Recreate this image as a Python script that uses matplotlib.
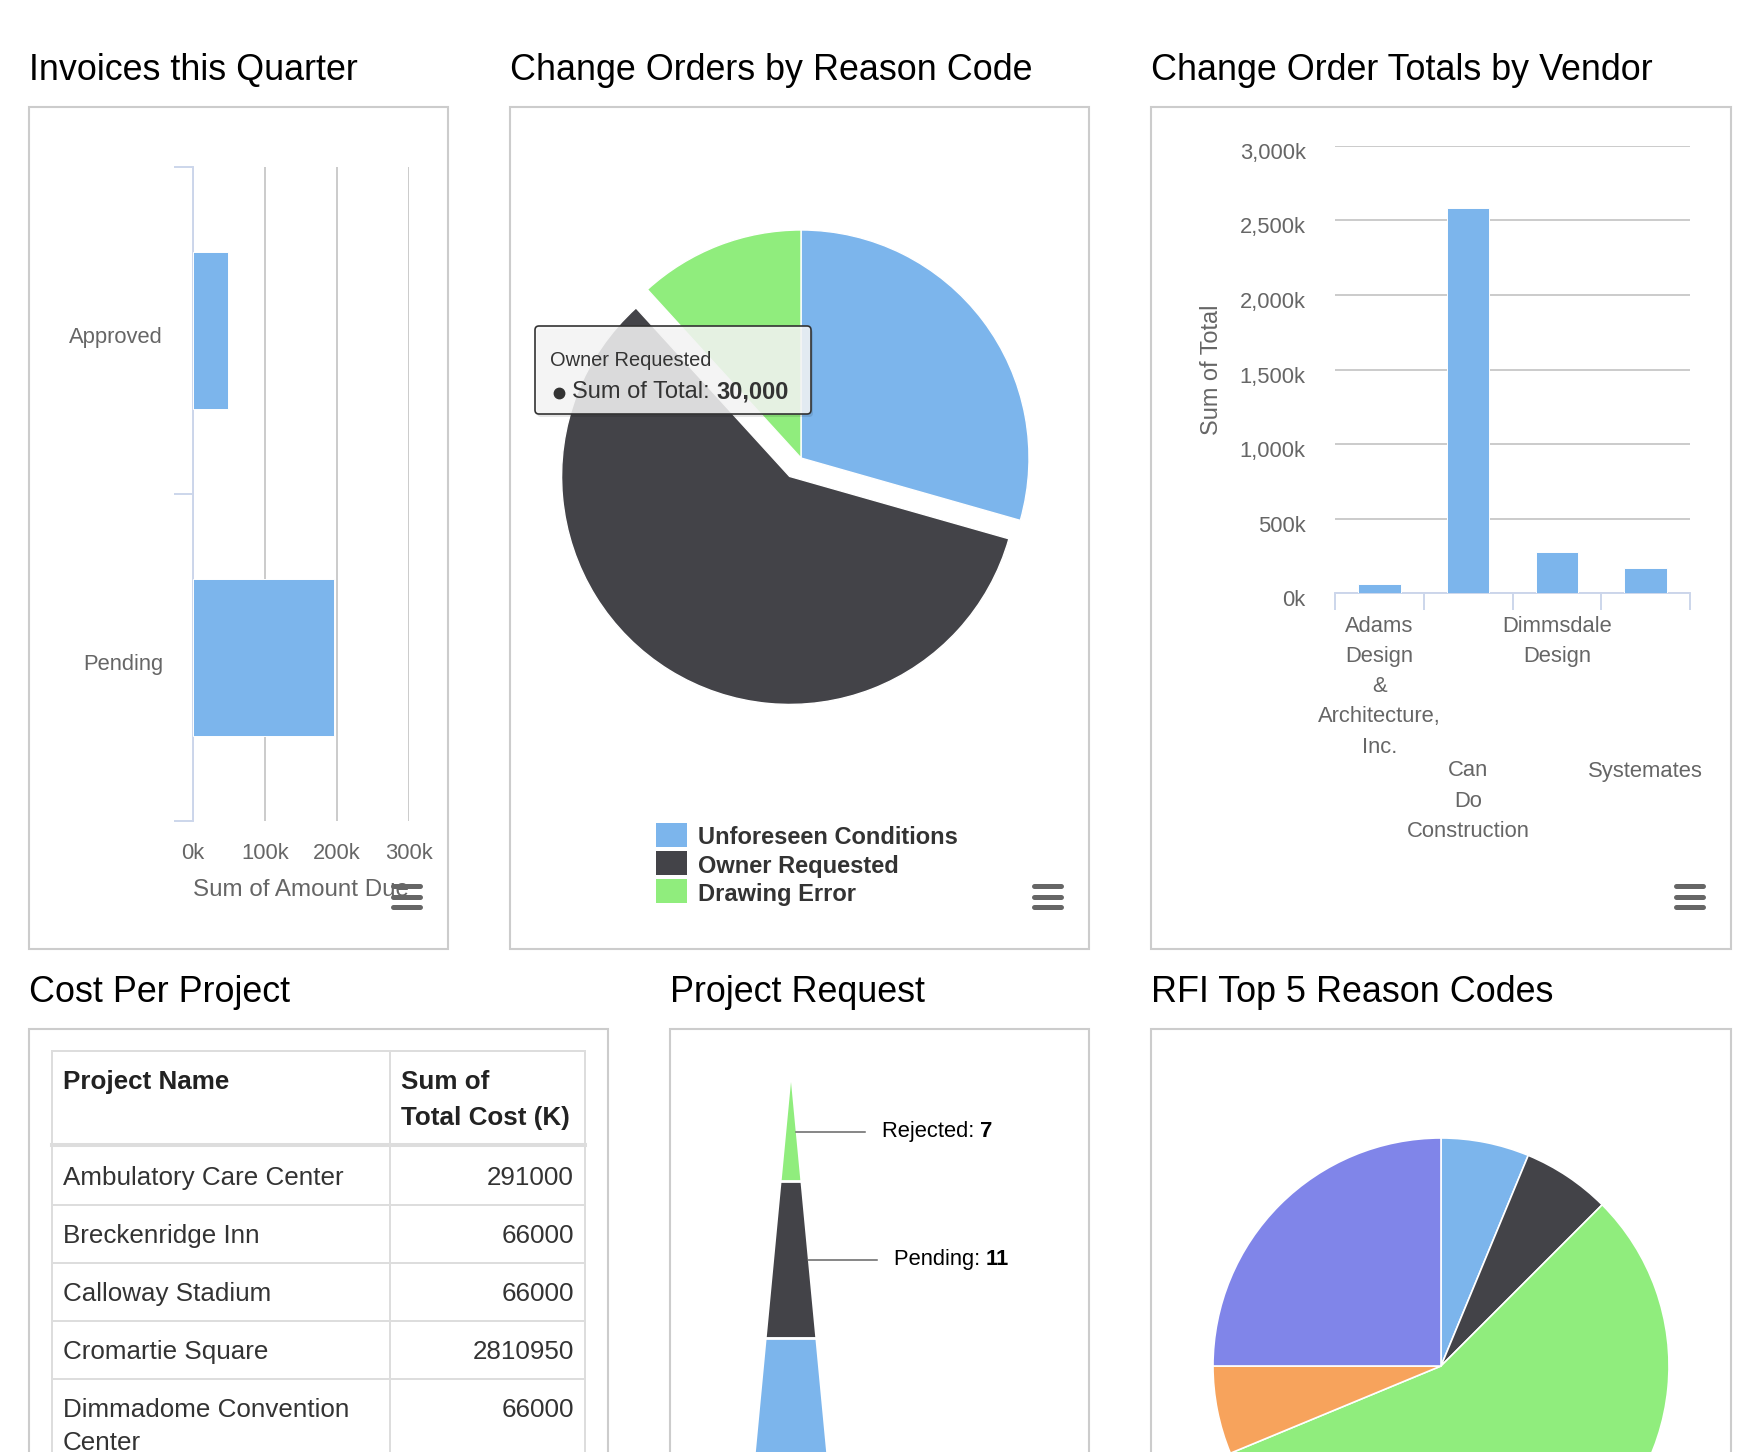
import numpy as np
import matplotlib
matplotlib.use("Agg")
import matplotlib.pyplot as plt
from matplotlib.patches import Rectangle, FancyBboxPatch, Polygon
from matplotlib.ticker import FuncFormatter
from matplotlib.transforms import offset_copy, ScaledTranslation

plt.rcParams['font.family'] = ['Liberation Sans', 'DejaVu Sans']

#======================== data ==========================#
invoice_status = ["Approved", "Pending"]
invoice_amounts = [48000, 196000]

reason_codes = ["Unforeseen Conditions", "Owner Requested", "Drawing Error"]
reason_totals = [15000, 30000, 6000]

vendors = ["Adams Design & Architecture, Inc.", "Can Do Construction",
           "Dimmsdale Design", "Systemates"]
vendor_totals = [60000, 2583000, 276000, 167000]

table_header = ["Project Name", "Sum of\nTotal Cost (K)"]
projects = ["Ambulatory Care Center", "Breckenridge Inn", "Calloway Stadium",
            "Cromartie Square", "Dimmadome Convention\nCenter"]
project_costs = [291000, 66000, 66000, 2810950, 66000]

request_status = ["Rejected", "Pending", "Approved"]
request_counts = [7, 11, 20]

rfi_counts = [1, 1, 9, 1, 4]

BLUE, DARK, GREEN, ORANGE, PURPLE = '#7cb5ec', '#434348', '#90ed7d', '#f7a35c', '#8085e9'
GRID, AXIS, LABEL = '#c2c2c2', '#ccd6eb', '#666666'

#======================== layout helpers ==========================#
W, H = 1761, 1452
fig = plt.figure(figsize=(W / 100, H / 100), dpi=100)


def rect(x0, y0, x1, y1):
    return [x0 / W, 1 - y1 / H, (x1 - x0) / W, (y1 - y0) / H]


def overlay(z):
    a = fig.add_axes([0, 0, 1, 1])
    a.set_xlim(0, W)
    a.set_ylim(H, 0)
    a.axis('off')
    a.set_zorder(z)
    return a


def rich(ax, x, y, parts, **kw):
    # consecutive text pieces, regular / bold
    t = ax.text(x, y, parts[0][0], fontweight=parts[0][1], va='center', ha='left', **kw)
    for s, w in parts[1:]:
        t = ax.annotate(s, xy=(1, 0), xycoords=t, va='bottom', ha='left', fontweight=w, **kw)
    return t


def shift_down(labels, px):
    for lab in labels:
        lab.set_transform(lab.get_transform() + ScaledTranslation(0, -px / 100, fig.dpi_scale_trans))


bg = overlay(0)
fg = overlay(10)

panels = [("Invoices this Quarter", 29, 107, 448, 949),
          ("Change Orders by Reason Code", 510, 107, 1089, 949),
          ("Change Order Totals by Vendor", 1151, 107, 1731, 949),
          ("Cost Per Project", 29, 1029, 608, 1480),
          ("Project Request", 670, 1029, 1089, 1480),
          ("RFI Top 5 Reason Codes", 1151, 1029, 1731, 1480)]
for title, x0, y0, x1, y1 in panels:
    bg.add_patch(Rectangle((x0, y0), x1 - x0, y1 - y0, fc='white', ec='#cccccc', lw=1.5))
    bg.text(x0, y0 - 27, title, fontsize=25.8, va='baseline', color='black')

# export menu icons
for _, x0, y0, x1, y1 in panels[:3]:
    for k in range(3):
        yy = 886 + k * 10.5
        fg.plot([x1 - 55, x1 - 28], [yy, yy], color='#666666', lw=3.6, solid_capstyle='round')

kfmt = FuncFormatter(lambda v, p: f"{v / 1000:,.0f}k")

#======================== Invoices this Quarter ==========================#
ax1 = fig.add_axes(rect(193, 167, 409, 821))
ax1.set_facecolor('none')
ax1.barh(range(len(invoice_status)), invoice_amounts, height=0.48, color=BLUE,
         edgecolor='white', linewidth=0.7, zorder=3)
ax1.set_ylim(len(invoice_status) - 0.5, -0.5)
ax1.set_xlim(0, 300000)
ax1.set_xticks(np.arange(0, 300001, 100000))
ax1.xaxis.set_major_formatter(kfmt)
ax1.set_yticks(range(len(invoice_status)))
ax1.set_yticklabels(invoice_status)
ax1.set_yticks(np.arange(-0.5, len(invoice_status)), minor=True)
ax1.tick_params(axis='y', which='major', length=0, pad=21.6, labelsize=15.8, labelcolor=LABEL)
ax1.tick_params(axis='y', which='minor', length=13.7, width=1.4, color=AXIS, direction='out')
ax1.tick_params(axis='x', length=0, pad=16, labelsize=15.8, labelcolor=LABEL)
ax1.grid(axis='x', color=GRID, lw=1.2)
ax1.set_axisbelow(True)
for s in ['top', 'right', 'bottom']:
    ax1.spines[s].set_visible(False)
ax1.spines['left'].set_color(AXIS)
ax1.spines['left'].set_linewidth(1.4)
ax1.set_xlabel("Sum of Amount Due", fontsize=17.4, color=LABEL)
ax1.xaxis.set_label_coords(0.5, -(890 - 821) / 654)
ax1.xaxis.label.set_va('center')
shift_down(ax1.get_yticklabels(), 4)

#======================== Change Orders by Reason Code ==========================#
R = 228
ax2 = fig.add_axes(rect(801 - 260, 458 - 260, 801 + 260, 458 + 260))
ax2.pie(reason_totals, colors=[BLUE, DARK, GREEN], startangle=90, counterclock=False,
        explode=[0, 0.095, 0], radius=1, wedgeprops=dict(edgecolor='white', linewidth=1))
ax2.set_xlim(-260 / R, 260 / R)
ax2.set_ylim(-260 / R, 260 / R)
ax2.set_aspect('equal')
ax2.axis('off')

for i, (name, c) in enumerate(zip(reason_codes, [BLUE, DARK, GREEN])):
    yy = 835 + i * 28
    bg.add_patch(Rectangle((656, yy - 12), 31, 24, fc=c, ec='none', zorder=3))
    bg.text(698, yy + 3, name, fontsize=17, fontweight='bold', color='#333333', va='center', zorder=3)

# hover tooltip
tx0, ty0, tx1, ty1 = 535, 326, 811, 414
fg.add_patch(FancyBboxPatch((tx0 + 2, ty0 + 3), tx1 - tx0, ty1 - ty0,
                            boxstyle="round,pad=0,rounding_size=4", fc=(0, 0, 0, 0.10), ec='none'))
fg.add_patch(FancyBboxPatch((tx0, ty0), tx1 - tx0, ty1 - ty0,
                            boxstyle="round,pad=0,rounding_size=4",
                            fc=(0.97, 0.97, 0.97, 0.85), ec='#333333', lw=1.2))
fg.text(550, 360, reason_codes[1], fontsize=14.4, color='#333333', va='center')
fg.plot([559], [393], 'o', ms=7.5, color='#333333')
rich(fg, 572, 392, [("Sum of Total: ", 'normal'), (f"{reason_totals[1]:,}", 'bold')],
     fontsize=17, color='#333333')

#======================== Change Order Totals by Vendor ==========================#
ax3 = fig.add_axes(rect(1335, 146, 1690, 593))
ax3.set_facecolor('none')
ax3.bar(range(len(vendors)), vendor_totals, width=0.48, color=BLUE,
        edgecolor='white', linewidth=0.7, zorder=3)
ax3.set_xlim(-0.5, len(vendors) - 0.5)
ax3.set_ylim(0, 3000000)
ax3.set_yticks(np.arange(0, 3000001, 500000))
ax3.yaxis.set_major_formatter(kfmt)
ax3.set_xticks([])
ax3.set_xticks(np.arange(-0.5, len(vendors)), minor=True)
ax3.tick_params(axis='y', length=0, pad=21, labelsize=15.8, labelcolor=LABEL)
ax3.tick_params(axis='x', which='minor', length=12.2, width=1.4, color=AXIS, direction='out')
ax3.grid(axis='y', color=GRID, lw=1.2)
ax3.set_axisbelow(True)
for s in ['top', 'right', 'left']:
    ax3.spines[s].set_visible(False)
ax3.spines['bottom'].set_color(AXIS)
ax3.spines['bottom'].set_linewidth(1.4)
ax3.set_ylabel("Sum of Total", fontsize=16.9, color=LABEL)
ax3.yaxis.set_label_coords((1212 - 1335) / 355, 0.5)
ax3.yaxis.label.set_va('center')
shift_down(ax3.get_yticklabels(), 5)

base = ax3.get_xaxis_transform()
for i, name in enumerate(vendors):
    row_off = 33 if i % 2 == 0 else 178   # staggered label lines
    for j, word in enumerate(name.split()):
        tr = offset_copy(base, fig=fig, x=0, y=-(row_off + j * 30.3), units='dots')
        ax3.text(i, 0, word, transform=tr, ha='center', va='center',
                 fontsize=15.8, color=LABEL)

#======================== Cost Per Project (table) ==========================#
tl, tc, tr_, ttop = 52, 390, 585, 1051
line_kw = dict(color='#dddddd', lw=1.4, zorder=3)
bg.plot([tl, tr_], [ttop, ttop], **line_kw)
for xx in (tl, tc, tr_):
    bg.plot([xx, xx], [ttop, H + 20], **line_kw)
for col, xx in zip(table_header, (63, 401)):
    for j, ln in enumerate(col.split('\n')):
        bg.text(xx, ttop + 31 + j * 36, ln, fontsize=18.7, fontweight='bold', color='#222222',
                va='center', zorder=4)
hb = ttop + 94
bg.plot([tl, tr_], [hb, hb], color='#dddddd', lw=2.9, zorder=3)
y = hb + 2
for name, cost in zip(projects, project_costs):
    lines = name.split('\n')
    for j, ln in enumerate(lines):
        bg.text(63, y + 31 + j * 33, ln, fontsize=18.7, color='#333333', va='center', zorder=4)
    bg.text(574, y + 31, str(cost), fontsize=18.7, color='#333333', va='center', ha='right', zorder=4)
    y += 58 + (len(lines) - 1) * 33
    bg.plot([tl, tr_], [y, y], **line_kw)

#======================== Project Request (pyramid) ==========================#
S = 14.2       # px per count
slope = 0.095  # half width per unit of depth
ax5 = fig.add_axes(rect(670, 1082, 1089, 1452))
ax5.set_xlim(-(791 - 670) / S, (1089 - 791) / S)
ax5.set_ylim(370 / S, 0)
ax5.axis('off')
depth_max = 370 / S
edges = np.concatenate([[0], np.cumsum(request_counts)])
for i, (name, n, c) in enumerate(zip(request_status, request_counts, [GREEN, DARK, BLUE])):
    d0, d1 = edges[i], edges[i + 1]
    ax5.add_patch(Polygon([(-slope * d0, d0), (slope * d0, d0), (slope * d1, d1), (-slope * d1, d1)],
                          closed=True, fc=c, ec='none'))
    if i > 0:
        ax5.plot([-slope * d0 - 0.2, slope * d0 + 0.2], [d0, d0], color='white', lw=2)
    dm = (d0 + d1) / 2
    if dm < depth_max:   # label only what the panel shows
        xe = slope * dm
        ax5.plot([xe, xe + 69 / S], [dm, dm], color='#666666', lw=1.1)
        rich(ax5, xe + 86 / S, dm, [(f"{name}: ", 'normal'), (str(n), 'bold')],
             fontsize=15.8, color='black')

#======================== RFI Top 5 Reason Codes ==========================#
ax6 = fig.add_axes(rect(1441 - 260, 1366 - 260, 1441 + 260, 1366 + 260))
ax6.pie(rfi_counts, colors=[BLUE, DARK, GREEN, ORANGE, PURPLE], startangle=90, counterclock=False,
        radius=1, wedgeprops=dict(edgecolor='white', linewidth=1.2))
ax6.set_xlim(-260 / R, 260 / R)
ax6.set_ylim(-260 / R, 260 / R)
ax6.set_aspect('equal')
ax6.axis('off')

fig.savefig('out.png', dpi=100)
